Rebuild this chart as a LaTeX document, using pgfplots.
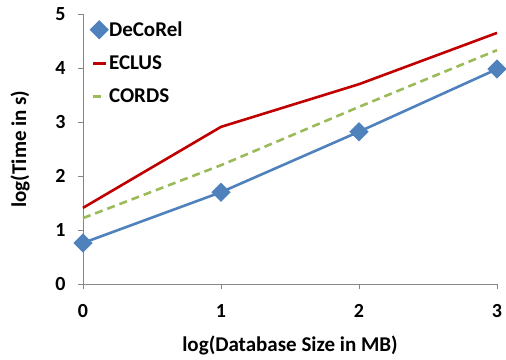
\documentclass[border=0pt]{standalone}
\usepackage{pgfplots}
\pgfplotsset{compat=1.18}
\usepackage{fontspec}
\setmainfont{Carlito}
\definecolor{cblue}{HTML}{4F81BD}
\definecolor{cred}{HTML}{C00000}
\definecolor{cgreen}{HTML}{9BBB59}
\definecolor{cgray}{HTML}{868686}
\begin{document}
\begin{tikzpicture}
\useasboundingbox (-83bp,-76bp) rectangle (423bp,284bp);
\begin{axis}[
  at={(0,0)}, anchor=south west,
  scale only axis, width=414bp, height=270bp,
  xmin=0, xmax=3, ymin=0, ymax=5,
  xtick={0,1,2,3}, ytick={0,1,2,3,4,5},
  axis x line*=bottom, axis y line*=left,
  axis line style={cgray, line width=0.8bp},
  tick style={cgray, line width=0.8bp},
  tick align=outside, major tick length=5bp,
  every axis plot/.append style={line width=2.6bp},
  tick label style={font=\bfseries\fontsize{20bp}{24bp}\selectfont},
  /pgf/number format/assume math mode=true,
  xticklabel style={yshift=-12bp},
  yticklabel style={xshift=-9bp},
  xlabel={\bfseries\fontsize{21bp}{25bp}\selectfont log(Database Size in MB)},
  ylabel={\bfseries\fontsize{21bp}{25bp}\selectfont log(Time in s)},
  xlabel style={at={(axis description cs:0.5,0)}, anchor=center, yshift=-61bp},
  ylabel style={at={(axis description cs:-0.152,0.5)}, anchor=center, rotate=0},
  legend style={draw=none, fill=none, at={(axis cs:0.06,4.90)}, anchor=north west,
    font=\bfseries\fontsize{21bp}{25bp}\selectfont, row sep=14bp,
    /tikz/every even column/.append style={column sep=1bp},
    inner sep=0pt},
  legend cell align=left,
  legend image code/.code={\draw[line width=2.6bp, #1] (0bp,0bp) -- (13bp,0bp) plot coordinates {(6.5bp,0bp)};},
  clip=false,
]
\addplot[cblue, mark=square*, mark size=5.5bp, mark options={solid, fill=cblue, rotate=45}] coordinates {(0,0.76) (1,1.70) (2,2.82) (3,3.98)};
\addlegendentry{DeCoRel}
\addplot[cred, no marks] coordinates {(0,1.41) (1,2.91) (2,3.70) (3,4.65)};
\addlegendentry{ECLUS}
\addplot[cgreen, no marks, dash pattern=on 8bp off 5bp] coordinates {(0,1.22) (1,2.20) (2,3.28) (3,4.33)};
\addlegendentry{CORDS}
\end{axis}
\end{tikzpicture}
\end{document}
